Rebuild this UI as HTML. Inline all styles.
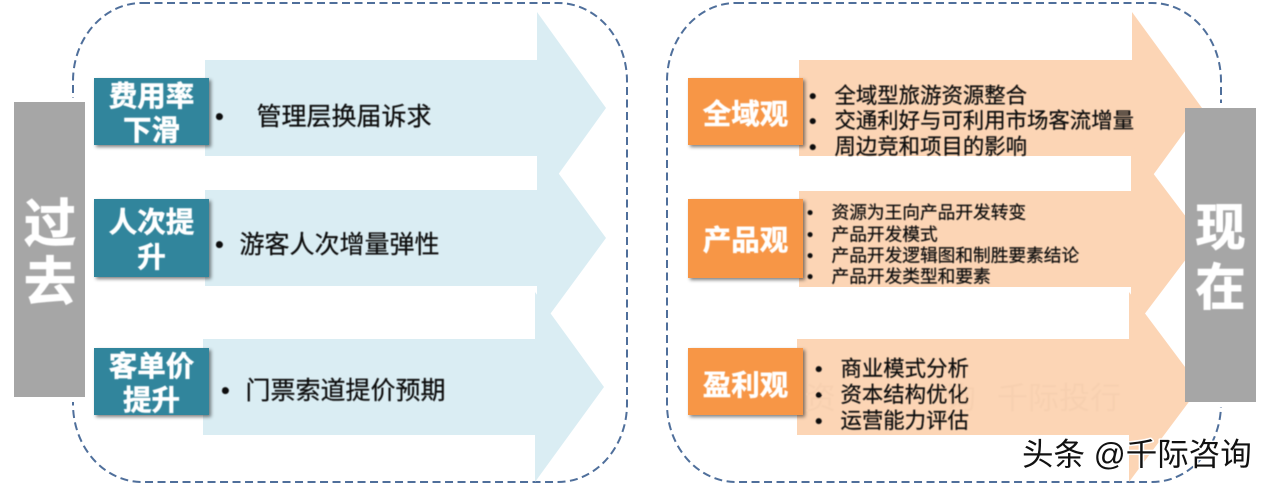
<!DOCTYPE html>
<html><head><meta charset="utf-8">
<style>
html,body{margin:0;padding:0;background:#fff;width:1269px;height:484px;overflow:hidden}
svg{display:block}
text{font-family:"Liberation Sans","Noto Sans CJK SC",sans-serif}
.w{fill:#fff;stroke:#fff;stroke-width:.5;font-weight:700;font-size:28.5px;text-anchor:middle}
.d{fill:#111;stroke:#111;stroke-width:.25}
</style></head><body>
<svg width="1269" height="484" viewBox="0 0 1269 484" xmlns="http://www.w3.org/2000/svg">
<defs>
<filter id="s" x="-10%" y="-10%" width="125%" height="130%"><feGaussianBlur stdDeviation="1.800"/></filter>
<filter id="b" x="-2%" y="-2%" width="104%" height="104%"><feGaussianBlur stdDeviation=".4"/></filter>
</defs>
<rect x="73" y="3" width="554" height="479" rx="69" ry="78" fill="#fff" stroke="#4f6f9b" stroke-width="2" stroke-dasharray="8 4.500"/>
<rect x="667" y="3" width="554" height="479" rx="69" ry="78" fill="#fff" stroke="#4f6f9b" stroke-width="2" stroke-dasharray="8 4.500"/>
<rect x="70" y="98" width="6" height="304" fill="#fff"/>
<rect x="1218" y="103" width="6" height="304" fill="#fff"/>

<g fill="#daedf3">
<polygon points="205,60 537,60 537,12 606,108 537,204 537,156 205,156"/>
<polygon points="205,190 537,190 537,144 606,238 537,332 537,286 205,286"/>
<polygon points="203,339 535,339 535,292 604,387 535,482 535,435 203,435"/>
</g>
<g fill="#fcd5b5">
<polygon points="799,60 1132,60 1132,12 1202,108 1132,204 1132,156 799,156"/>
<polygon points="799,191 1131,191 1131,144 1202,238 1131,332 1131,287 799,287"/>
<polygon points="797,339 1129,339 1129,292 1200,387 1129,482 1129,435 797,435"/>
</g>

<rect x="14" y="102" width="71" height="295" fill="#a6a6a6"/>
<rect x="1185" y="108" width="71" height="294" fill="#a6a6a6"/>

<g fill="#000" opacity=".5" filter="url(#s)">
<rect x="96" y="80" width="115" height="67"/><rect x="96" y="201" width="115" height="78"/><rect x="96" y="350" width="115" height="67"/>
<rect x="690" y="80" width="115" height="67"/><rect x="690" y="201" width="115" height="79"/><rect x="690" y="350" width="115" height="67"/>
</g>
<g fill="#31859c">
<rect x="94" y="78" width="115" height="67"/><rect x="94" y="199" width="115" height="78"/><rect x="94" y="348" width="115" height="67"/>
</g>
<g fill="#f79646">
<rect x="688" y="78" width="115" height="67"/><rect x="688" y="199" width="115" height="79"/><rect x="688" y="348" width="115" height="67"/>
</g>

<g filter="url(#b)">
<text class="w" x="151.500" y="106">费用率</text>
<text class="w" x="151.500" y="140">下滑</text>
<text class="w" x="151.500" y="232">人次提</text>
<text class="w" x="151.500" y="267">升</text>
<text class="w" x="151.500" y="376">客单价</text>
<text class="w" x="151.500" y="410">提升</text>
<text class="w" x="745.500" y="124">全域观</text>
<text class="w" x="745.500" y="250">产品观</text>
<text class="w" x="745.500" y="395">盈利观</text>

<text x="50" y="242" style="font-size:52px;font-weight:700;text-anchor:middle" fill="#fff" stroke="#fff">过</text>
<text x="50" y="300" style="font-size:52px;font-weight:700;text-anchor:middle" fill="#fff" stroke="#fff">去</text>
<text x="1220.500" y="245" style="font-size:50px;font-weight:700;text-anchor:middle" fill="#fff" stroke="#fff">现</text>
<text x="1220.500" y="305" style="font-size:50px;font-weight:700;text-anchor:middle" fill="#fff" stroke="#fff">在</text>

<g fill="#f7d0b0" style="font-size:31px">
<text x="805" y="409">资</text>
<text x="945" y="409">询</text>
<text x="997" y="409">千际投行</text>
</g>

<g class="d" style="font-size:25px">
<text x="215" y="125">•</text><text x="256.500" y="125">管理层换届诉求</text>
<text x="215" y="253">•</text><text x="239.500" y="253">游客人次增量弹性</text>
<text x="221" y="399">•</text><text x="245.500" y="399">门票索道提价预期</text>
</g>
<g class="d" style="font-size:21.400px">
<text x="809" y="103">•</text><text x="834.500" y="103">全域型旅游资源整合</text>
<text x="809" y="128">•</text><text x="834.500" y="128">交通利好与可利用市场客流增量</text>
<text x="809" y="154">•</text><text x="834.500" y="154">周边竞和项目的影响</text>
<text x="815" y="376">•</text><text x="840.500" y="376">商业模式分析</text>
<text x="815" y="402">•</text><text x="840.500" y="402">资本结构优化</text>
<text x="815" y="428">•</text><text x="840.500" y="428">运营能力评估</text>
</g>
<g class="d" style="font-size:17.700px">
<text x="807" y="218.500">•</text><text x="831.500" y="218.500">资源为王向产品开发转变</text>
<text x="807" y="240.500">•</text><text x="831.500" y="240.500">产品开发模式</text>
<text x="807" y="261.500">•</text><text x="831.500" y="261.500">产品开发逻辑图和制胜要素结论</text>
<text x="807" y="282.500">•</text><text x="831.500" y="282.500">产品开发类型和要素</text>
</g>
</g>

<text x="1022" y="465" style="font-size:31.500px;paint-order:stroke" fill="#111" stroke="#fff" stroke-width="3" stroke-linejoin="round">头条 @千际咨询</text>
</svg>
</body></html>
